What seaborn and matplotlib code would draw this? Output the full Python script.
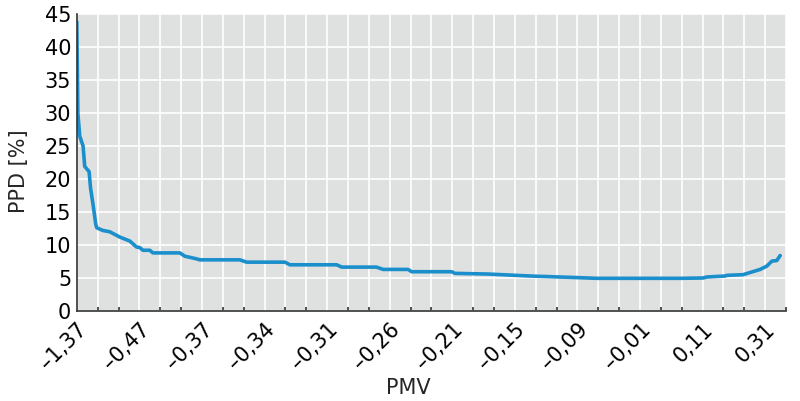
import numpy as np
import matplotlib
matplotlib.use("Agg")
import matplotlib.pyplot as plt
import seaborn as sns
import pandas as pd

sns.set_style("whitegrid")
plt.rcParams['font.family'] = ['DejaVu Sans']

# position along the sorted sample (label every 30 units)
pos = [0, 0.5, 1.4, 3.0, 3.8, 5.9, 6.6, 7.8, 9.1, 9.6, 11.0, 12.5, 15.8, 20.6, 23.0,
       25.4, 28.6, 30.2, 31.7, 35.0, 36.5, 49.4, 51.8, 57.4, 59.0, 78.2, 81.4, 99.8,
       102.2, 124.6, 127.0, 143.7, 146.8, 158.8, 160.5, 179.7, 181.3, 197.1, 217.3,
       236.5, 249.3, 289.2, 300.2, 302.0, 310.8, 311.6, 319.4, 327.6, 330.8, 333.2,
       335.6, 337.2]
ppd = [43.8, 30.0, 26.5, 25.0, 21.9, 21.1, 18.6, 16.1, 13.1, 12.6, 12.4, 12.2, 12.0,
       11.2, 10.9, 10.6, 9.7, 9.6, 9.2, 9.2, 8.8, 8.8, 8.3, 7.9, 7.75, 7.75, 7.4, 7.4,
       7.0, 7.0, 6.65, 6.65, 6.3, 6.3, 5.95, 5.95, 5.7, 5.6, 5.3, 5.1, 4.95, 4.95, 5.0,
       5.15, 5.3, 5.4, 5.5, 6.3, 6.8, 7.55, 7.65, 8.4]

pmv_labels = ['–1,37', '–0,47', '–0,37', '–0,34', '–0,31', '–0,26', '–0,21',
              '–0,15', '–0,09', '–0,01', '0,11', '0,31']

df = pd.DataFrame({'pos': pos, 'PPD': ppd})

fig = plt.figure(figsize=(8, 4.01), dpi=100)
ax = fig.add_axes([0.096, 0.2244, 0.8865, 0.741])
ax.set_facecolor('#dfe0e0')

sns.lineplot(data=df, x='pos', y='PPD', ax=ax, color='#1b8fcb', linewidth=2.6)

ax.set_xlim(0, 340)
ax.set_ylim(0, 45)
ax.set_yticks(np.arange(0, 46, 5))
ax.set_xticks(np.arange(0, 331, 30))
ax.set_xticks(np.arange(0, 341, 10), minor=True)
ax.set_xticklabels(pmv_labels, rotation=45, ha='right', rotation_mode='anchor')

ax.grid(True, which='both', axis='x', color='white', linewidth=1.2)
ax.grid(True, which='major', axis='y', color='white', linewidth=1.2)
ax.set_axisbelow(True)

for s in ['top', 'right']:
    ax.spines[s].set_visible(False)
for s in ['left', 'bottom']:
    ax.spines[s].set_color('#333333')
    ax.spines[s].set_linewidth(1.2)

ax.tick_params(axis='both', which='major', direction='in', length=5, width=1.2,
               colors='#333333', labelcolor='black', labelsize=15, pad=4)
ax.tick_params(axis='x', which='minor', direction='in', length=3, width=1.2,
               colors='#333333', bottom=True)
ax.tick_params(axis='x', pad=6)

ax.set_xlabel('PMV', fontsize=15)
ax.xaxis.set_label_coords(0.467, -0.225)
ax.set_ylabel('PPD [%]', fontsize=15)
ax.yaxis.set_label_coords(-0.068, 0.47)

fig.savefig('out.png', dpi=100)
